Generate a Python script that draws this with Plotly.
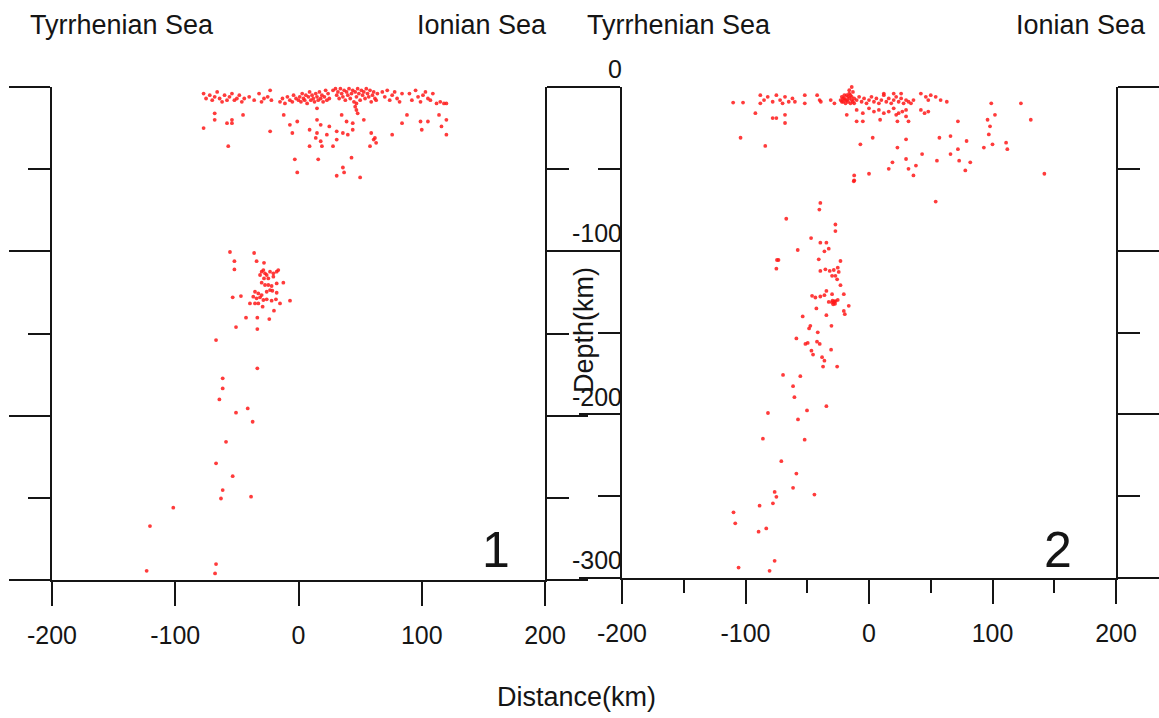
import plotly.graph_objects as go

# ---------------- data (distance km, depth km) ----------------
# Section 1
sec1_shallow_band = [
    (-77, -4), (-75, -7), (-72, -5), (-70, -8), (-68, -6), (-66, -3), (-64, -7), (-62, -9), (-60, -5),
    (-58, -8), (-56, -6), (-54, -4), (-52, -8), (-50, -7), (-48, -5), (-46, -9), (-44, -7), (-40, -6),
    (-36, -8), (-32, -4), (-30, -9), (-28, -7), (-25, -6), (-23, -2), (-22, -8),
    (-15, -9), (-13, -7), (-11, -10), (-9, -6), (-7, -8), (-5, -9), (-4, -5), (-2, -7), (0, -8), (1, -6),
    (2, -9), (3, -4), (4, -7), (5, -8), (6, -5), (7, -10), (8, -6), (9, -3), (10, -8), (11, -5), (12, -7),
    (13, -9), (14, -4), (15, -6), (16, -8), (17, -3), (18, -7), (19, -5), (20, -9), (21, -6), (22, -2),
    (23, -8), (24, -4), (25, -7),
    (28, -2), (30, -1), (31, -5), (32, -3), (33, -7), (34, -1), (35, -4), (36, -6), (37, -2), (38, -8),
    (39, -3), (40, -5), (41, -1), (42, -7), (43, -4), (44, -2), (45, -9), (46, -3), (47, -6), (48, -1),
    (49, -4), (50, -8), (51, -2), (52, -5), (53, -3), (54, -7), (55, -1), (56, -4), (57, -6), (58, -2),
    (59, -9), (60, -5), (61, -3), (62, -7), (63, -8), (64, -4), (46, -12), (47, -14), (48, -16), (47, -10),
    (68, -3), (70, -6), (72, -2), (74, -8), (76, -5), (78, -3), (80, -7), (82, -9), (84, -4),
    (90, -4), (92, -8), (95, -2), (97, -6), (99, -9), (101, -5), (103, -3), (105, -7), (107, -8),
    (109, -4), (112, -10), (115, -9), (118, -10), (120, -10),
]
sec1_crust = [
    (-68, -16), (-68, -20), (-58, -22), (-54, -20), (-54, -22), (-77, -25), (-45, -17), (-57, -36),
    (-23, -27), (-12, -17), (-7, -23), (-1, -21), (-5, -28), (15, -13), (15, -20), (9, -26), (15, -28),
    (14, -31), (18, -33), (19, -36), (9, -36), (23, -29), (28, -36), (31, -32), (35, -17), (39, -21),
    (44, -22), (53, -20), (36, -28), (40, -29), (44, -26), (59, -28), (61, -32), (63, -34), (58, -36),
    (62, -31), (76, -29), (84, -22), (88, -17), (99, -21), (100, -26), (105, -21), (114, -17), (116, -24),
    (120, -20), (120, -29), (-3, -44), (16, -44), (-1, -52), (31, -54), (36, -49), (37, -52), (43, -43),
    (50, -55), (18, -23), (25, -24), (31, -27),
]
sec1_slab = [
    (-55.6, -100.4), (-36, -101), (-52, -106), (-34, -106), (-28, -107), (-52, -111),
    (-29.9, -112.4), (-28.5, -111.4), (-27.2, -113.4), (-31.2, -114.4), (-25.8, -114.4), (-23.1, -112.4),
    (-20.4, -113.4), (-17.7, -112.4), (-16.4, -111.4), (-28, -116.5), (-24.5, -116.5), (-20.4, -115.4),
    (-12.3, -119.1), (-29.9, -119.1), (-27.2, -120.5), (-24.5, -120.5), (-21.8, -121.1), (-17.7, -119.5),
    (-35.3, -124.6), (-32.6, -125.6), (-29.9, -126.6), (-25.8, -124.6), (-23.1, -123.6), (-21.2, -124),
    (-17.7, -125.2), (-36.7, -127.6), (-34, -128.6), (-31.2, -128), (-28.5, -129.6), (-25.8, -129.2),
    (-21.8, -130), (-18.3, -129.2), (-15, -131.7), (-6.9, -130), (-39.4, -131.7), (-35.3, -131.7),
    (-32.6, -131.7), (-29.1, -133.7), (-19.9, -136.1), (-53.4, -128), (-46.7, -127.2), (-42.6, -140.4),
    (-33.4, -140.4), (-23.7, -141.2), (-50.7, -146.1), (-33.4, -147.3), (-66.9, -154), (-33.4, -171.2),
    (-61.5, -177.3), (-61.5, -183.4), (-64.2, -190.1), (-50.7, -198.2), (-41.2, -195.6), (-37.2, -203.7),
    (-58.8, -215.9), (-66.9, -229), (-53.4, -236.8), (-61.5, -245.3), (-62.9, -250.4), (-38.5, -249.3),
    (-101.6, -256), (-120.5, -267.2), (-66.9, -290.3), (-123.2, -294.4), (-67.7, -296),
]

# Section 2
sec2_shallow_band = [
    (-110, -9.5), (-102, -9.5), (-92, -16), (-88, -5), (-88, -10),
    (-85, -8), (-82, -6), (-78, -9), (-75, -5), (-72, -8), (-70, -10), (-68, -6), (-65, -9), (-62, -7),
    (-60, -9), (-52, -5), (-52, -10), (-42, -5), (-40, -8), (-39, -9), (-31, -8), (-28, -10),
    (-23, -8), (-22, -6), (-21, -9), (-20, -7), (-19, -10), (-18, -5), (-18, -8), (-17, -6), (-17, -9),
    (-16, -4), (-16, -7), (-15, -10), (-15, -5), (-14, -8), (-14, -6), (-13, -9), (-13, -3), (-12, -7),
    (-12, -10), (-20, -5), (-19, -8), (-22, -9), (-21, -7), (-16, -2), (-14, 0), (-18, -17),
    (-10, -8), (-8, -6), (-6, -9), (-4, -7), (-2, -10), (0, -8), (2, -6), (4, -9), (6, -7), (8, -10),
    (10, -8), (12, -5), (14, -9), (16, -7), (18, -10), (20, -8), (22, -6), (24, -9), (26, -7), (28, -10),
    (30, -8), (32, -9), (34, -10), (36, -8), (12, -4), (20, -4), (26, -4),
    (-10, -14), (-5, -16), (0, -13), (4, -15), (8, -14), (12, -16), (16, -15), (20, -13), (22, -17),
    (24, -16), (27, -15), (30, -14), (30, -18),
    (42, -4), (46, -6), (48, -8), (50, -5), (54, -6), (58, -8), (42, -14), (45, -16), (48, -15),
    (63, -9),
]
sec2_crust = [
    (-10, -21), (-5, -21), (9, -20), (23, -21), (32, -21), (-68, -17), (-68, -22), (-78, -19), (-75, -19),
    (-104, -31), (-84, -36), (-7, -35), (3, -31), (23, -37), (30, -32), (43, -41), (30, -44), (19, -46),
    (16, -50), (32, -50), (38, -48), (36, -54), (-12, -54), (-12, -57), (0, -53), (55, -45), (57, -31),
    (66, -30), (66, -41), (72, -21), (72, -38), (73, -45), (79, -33), (78, -51), (82, -46), (93, -37),
    (96, -20), (97, -29), (99, -10), (102, -17), (98, -24), (100, -35), (111, -34), (112, -38),
    (123, -10), (131, -20), (142, -53), (54, -70),
]
sec2_slab = [
    (-12.3, -57.6), (-39.4, -70.8), (-40.2, -74.9), (-67, -80.5), (-27.2, -84), (-27.2, -88),
    (-46.9, -92.3), (-39.4, -95.1), (-34.5, -95.1), (-32.6, -98.8), (-36.1, -100.4), (-57.7, -99.6),
    (-74.5, -105.7), (-73.3, -105.7), (-75, -111), (-40.7, -105.3), (-23.1, -106.3), (-39.4, -112.4),
    (-35.3, -111.4), (-31.8, -112.4), (-28.5, -111.8), (-25.3, -110.4), (-29.9, -115.4), (-27.2, -115.4),
    (-24.5, -113), (-25.8, -117.5), (-23.1, -121.1), (-34.5, -124.6), (-29.9, -126.6), (-46.1, -127.6),
    (-43.4, -128.6), (-39.4, -128), (-36.1, -127.2), (-20.4, -126.6), (-28.5, -131.7), (-29.5, -130.5),
    (-27.5, -132.5), (-28, -131), (-29, -132.8), (-27, -130.8), (-30, -131.5), (-32.6, -131.3),
    (-25.3, -130.1), (-16.4, -133.7), (-20.4, -136.8), (-19.6, -138.8), (-42.6, -135.3), (-34.5, -139.4),
    (-53.7, -140.2), (-30.4, -145.9), (-47.5, -145.9), (-48.5, -147.5), (-41.5, -149.9), (-58.8, -153.6),
    (-49.6, -156.4), (-51.5, -157), (-42.1, -155.6), (-39.9, -157), (-46.6, -161.1), (-30.7, -160.5),
    (-45.3, -163.5), (-38, -165.1), (-36.1, -167.2), (-25.8, -170.8), (-37.2, -170.8), (-69.6, -175.9),
    (-55.6, -176.7), (-61.5, -182.8), (-60.4, -189.5), (-34.5, -195), (-50.2, -197.6), (-81.8, -199.2),
    (-57.5, -203.1), (-85.9, -214.9), (-52.1, -215.5), (-71, -228.6), (-58.8, -236.2), (-61.5, -244.9),
    (-44.2, -249), (-76.4, -247.4), (-75, -250.4), (-77.8, -254.4), (-88.6, -255.8), (-109.7, -259.9),
    (-108.3, -266.6), (-89.4, -271.7), (-83.2, -269.7), (-76.4, -289.5), (-105.6, -293.6), (-80.5, -295.6),
]

x_range = [-200, 200]
x_tick_vals = [-200, -100, 0, 100, 200]
x_tick_text = ["-200", "-100", "0", "100", "200"]
depth_range = [-300, 0]
depth_tick_vals = [0, -100, -200, -300]
depth_tick_text = ["0", "-100", "-200", "-300"]
left_label, right_label = "Tyrrhenian Sea", "Ionian Sea"
panel_names = ["1", "2"]

# ---------------- figure ----------------
W, H = 1159, 718
FONT = "Liberation Sans, Arial, Helvetica, sans-serif"
INK = "#151515"
DOT = "rgba(255,25,25,0.85)"


def unzip(*groups):
    xs, ys = [], []
    for g in groups:
        for a, b in g:
            xs.append(a)
            ys.append(b)
    return xs, ys


p1x, p1y = unzip(sec1_shallow_band, sec1_crust, sec1_slab)
p2x, p2y = unzip(sec2_shallow_band, sec2_crust, sec2_slab)

fig = go.Figure()
fig.add_trace(go.Scatter(x=p1x, y=p1y, mode="markers", xaxis="x", yaxis="y",
                         marker=dict(size=3.8, color=DOT, line=dict(width=0)),
                         cliponaxis=False, showlegend=False, hoverinfo="skip"))
fig.add_trace(go.Scatter(x=p2x, y=p2y, mode="markers", xaxis="x2", yaxis="y2",
                         marker=dict(size=3.8, color=DOT, line=dict(width=0)),
                         cliponaxis=False, showlegend=False, hoverinfo="skip"))
# invisible trace to hold the overlay axis carrying depth labels
fig.add_trace(go.Scatter(x=[0], y=[0], mode="markers", xaxis="x2", yaxis="y3",
                         marker=dict(size=1, opacity=0), showlegend=False, hoverinfo="skip"))

xd1 = [52 / W, 545 / W]
xd2 = [622 / W, 1116 / W]
yd1 = [1 - 580 / H, 1 - 87 / H]
yd2 = [1 - 578 / H, 1 - 87 / H]

tickfont = dict(family=FONT, size=25, color=INK)


def xaxis(domain, anchor, minor):
    d = dict(domain=domain, anchor=anchor, range=x_range, showline=True, linecolor=INK, linewidth=2,
             ticks="outside", ticklen=24, tickwidth=2, tickcolor=INK,
             tickvals=x_tick_vals, ticktext=x_tick_text, automargin=False,
             showgrid=False, zeroline=False, tickfont=tickfont, ticklabelstandoff=8, fixedrange=True)
    if minor:
        d["minor"] = dict(ticks="outside", ticklen=13, tickwidth=2, tickcolor=INK, dtick=50, tick0=0,
                          showgrid=False)
    return d


def yaxis(domain, anchor):
    return dict(domain=domain, anchor=anchor, range=depth_range, showline=True, linecolor=INK,
                linewidth=2, ticks="outside", ticklen=41, tickwidth=2, tickcolor=INK, tick0=0,
                dtick=100, mirror="ticks", showticklabels=False, showgrid=False, zeroline=False,
                automargin=False,
                minor=dict(ticks="outside", ticklen=22, tickwidth=2, tickcolor=INK, dtick=50, tick0=0,
                           showgrid=False), fixedrange=True)


annotations = []


def txt(s, x, y, size=27, xanchor="center", angle=0):
    annotations.append(dict(text=s, x=x / W, y=1 - y / H, xref="paper", yref="paper",
                            xanchor=xanchor, yanchor="middle", showarrow=False, textangle=angle,
                            font=dict(family=FONT, size=size, color=INK)))


txt(left_label, 28, 25, xanchor="left")
txt(right_label, 549, 25, xanchor="right")
txt(left_label, 585, 25, xanchor="left")
txt(right_label, 1148, 25, xanchor="right")
txt("Distance(km)", 576, 697)
txt("Depth(km)", 584, 330, angle=-90)
txt(panel_names[0], 496, 550, size=50)
txt(panel_names[1], 1058, 550, size=50)

fig.update_layout(
    template="none",
    width=W, height=H, margin=dict(l=0, r=0, t=0, b=0, pad=0, autoexpand=False),
    paper_bgcolor="white", plot_bgcolor="white",
    xaxis=xaxis(xd1, "y", False),
    yaxis=yaxis(yd1, "x"),
    xaxis2=xaxis(xd2, "y2", True),
    yaxis2=yaxis(yd2, "x2"),
    yaxis3=dict(overlaying="y2", anchor="free", position=622 / W, side="left", range=depth_range,
                showline=False, ticks="", showgrid=False, zeroline=False, tickvals=depth_tick_vals,
                ticktext=depth_tick_text, ticklabelposition="outside top", tickfont=tickfont,
                automargin=False, fixedrange=True),
    annotations=annotations,
    showlegend=False,
)

fig.write_html("out.html", config={"displayModeBar": False},
               post_script="document.body.style.margin='0';document.body.style.padding='0';")
